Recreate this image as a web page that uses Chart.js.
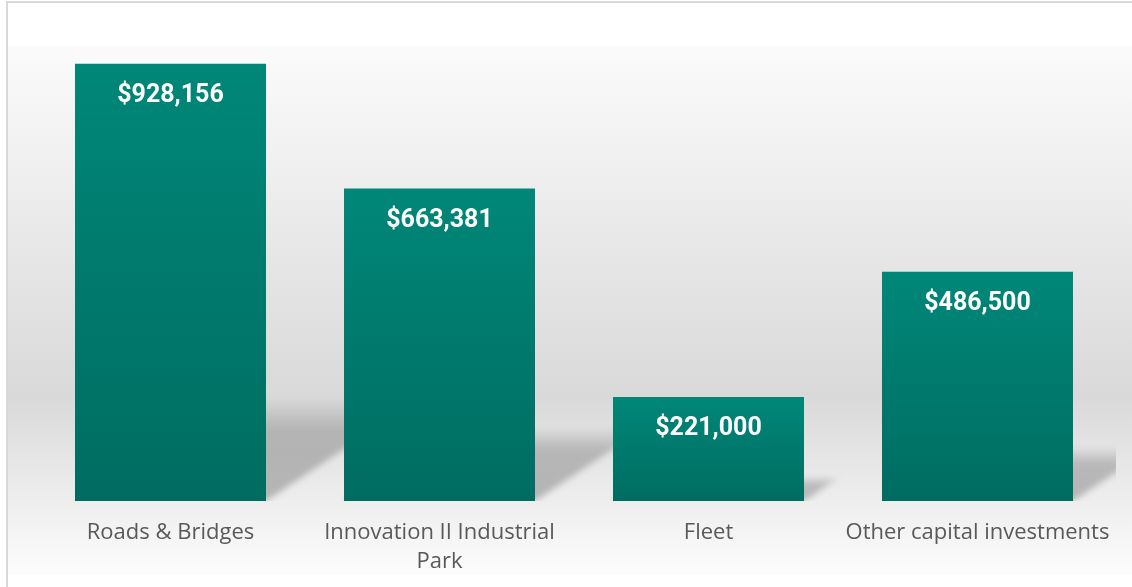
<!DOCTYPE html>
<html>
<head>
<meta charset="utf-8">
<script src="https://cdn.jsdelivr.net/npm/chart.js@4.4.1/dist/chart.umd.min.js"></script>
<style>
  html, body { margin: 0; padding: 0; background: #fff; }
  #wrap { position: relative; width: 1132px; height: 587px; }
</style>
</head>
<body>
<div id="wrap"><canvas id="capChart"></canvas></div>
<script>
const categories = ['Roads & Bridges', ['Innovation II Industrial', 'Park'], 'Fleet', 'Other capital investments'];
const amounts = [928156, 663381, 221000, 486500];
const axisMax = 1000000;

// background panel + frame
const panelPlugin = {
  id: 'panel',
  beforeDraw(chart) {
    const ctx = chart.ctx;
    ctx.save();
    ctx.fillStyle = '#ffffff';
    ctx.fillRect(0, 0, chart.width, chart.height);
    const g = ctx.createLinearGradient(0, 46, 0, 574);
    g.addColorStop(0, '#fbfbfb');
    g.addColorStop(0.66, '#d9d9d9');
    g.addColorStop(1, '#fcfcfc');
    ctx.fillStyle = g;
    ctx.fillRect(8, 46, chart.width - 8, 528);
    ctx.fillStyle = '#d9d9d9';
    ctx.fillRect(6, 1, chart.width - 6, 2);
    ctx.fillRect(6, 1, 2, chart.height);
    ctx.restore();
  }
};

// perspective shadow behind each bar
const shadowPlugin = {
  id: 'perspShadow',
  beforeDatasetsDraw(chart) {
    const ctx = chart.ctx;
    const area = chart.chartArea;
    const meta = chart.getDatasetMeta(0);
    ctx.save();
    ctx.beginPath();
    ctx.rect(area.left, area.top, area.right - area.left + 4, area.bottom - area.top);
    ctx.clip();
    ctx.filter = 'blur(3px)';
    meta.data.forEach(bar => {
      const x0 = bar.x - bar.width / 2;
      const x1 = bar.x + bar.width / 2;
      const bottom = bar.base;
      const h = (bottom - bar.y) * 0.23;
      const dx = h * 1.5;
      const g = ctx.createLinearGradient(0, bottom, 0, bottom - h);
      g.addColorStop(0, 'rgba(0,0,0,0.24)');
      g.addColorStop(0.7, 'rgba(0,0,0,0.2)');
      g.addColorStop(1, 'rgba(0,0,0,0.02)');
      ctx.fillStyle = g;
      ctx.beginPath();
      ctx.moveTo(x0, bottom);
      ctx.lineTo(x1, bottom);
      ctx.lineTo(x1 + dx, bottom - h);
      ctx.lineTo(x0 + dx, bottom - h);
      ctx.closePath();
      ctx.fill();
    });
    ctx.restore();
  }
};

// value labels inside the top of each bar
const valueLabels = {
  id: 'valueLabels',
  afterDatasetsDraw(chart) {
    const ctx = chart.ctx;
    const meta = chart.getDatasetMeta(0);
    ctx.save();
    ctx.fillStyle = '#ffffff';
    ctx.font = 'bold 25px Roboto, "Liberation Sans", sans-serif';
    ctx.textAlign = 'center';
    ctx.textBaseline = 'middle';
    meta.data.forEach((bar, i) => {
      ctx.fillText('$' + amounts[i].toLocaleString('en-US'), bar.x, bar.y + 32);
    });
    ctx.restore();
  }
};

function barFill(context) {
  const chart = context.chart;
  if (!chart.chartArea) return '#007a6d';
  const y = chart.scales.y;
  const top = y.getPixelForValue(amounts[context.dataIndex]);
  const bottom = y.getPixelForValue(0);
  const g = chart.ctx.createLinearGradient(0, top, 0, bottom);
  g.addColorStop(0, '#008778');
  g.addColorStop(1, '#006c61');
  return g;
}

new Chart(document.getElementById('capChart'), {
  type: 'bar',
  data: {
    labels: categories,
    datasets: [{
      data: amounts,
      backgroundColor: barFill,
      borderWidth: 0,
      categoryPercentage: 1,
      barPercentage: 0.71
    }]
  },
  options: {
    responsive: true,
    maintainAspectRatio: false,
    animation: false,
    layout: { padding: { left: 36, right: 20, top: 30, bottom: 0 } },
    plugins: {
      legend: { display: false },
      tooltip: { enabled: false }
    },
    scales: {
      x: {
        grid: { display: false },
        border: { display: false },
        ticks: {
          color: '#595959',
          padding: 10,
          autoSkip: false,
          maxRotation: 0,
          font: { family: '"Open Sans", sans-serif', size: 22, lineHeight: 1.28 }
        },
        afterFit(scale) { scale.height = 86; }
      },
      y: {
        display: false,
        min: 0,
        max: axisMax
      }
    }
  },
  plugins: [panelPlugin, shadowPlugin, valueLabels]
});
</script>
</body>
</html>
